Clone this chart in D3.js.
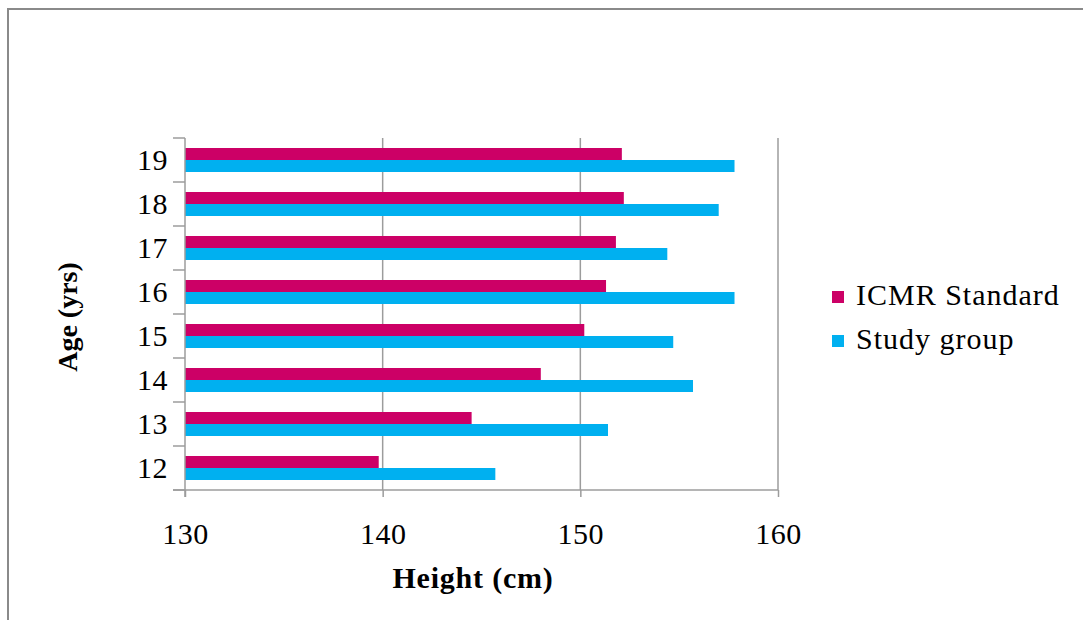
<!DOCTYPE html>
<html>
<head>
<meta charset="utf-8">
<script src="https://cdn.jsdelivr.net/npm/d3@7/dist/d3.min.js"></script>
<style>
  html, body { margin: 0; padding: 0; background: #fff; }
  svg { display: block; }
  text { font-family: "Liberation Serif", "Times New Roman", serif; fill: #000; }
</style>
</head>
<body>
<svg id="chart" width="1083" height="620"></svg>
<script>
// Mean height by age: ICMR reference vs. study group
const ages = ["12", "13", "14", "15", "16", "17", "18", "19"];
const seriesNames = ["ICMR Standard", "Study group"];
const icmrStandard = [139.8, 144.5, 148.0, 150.2, 151.3, 151.8, 152.2, 152.1];
const studyGroup   = [145.7, 151.4, 155.7, 154.7, 157.8, 154.4, 157.0, 157.8];
const xTicks = [130, 140, 150, 160];
const colors = ["#CC0066", "#00B0F0"];

const svg = d3.select("#chart");

// outer frame
svg.append("rect")
  .attr("x", 8).attr("y", 9)
  .attr("width", 1100).attr("height", 640)
  .attr("fill", "none").attr("stroke", "#8a8a8a").attr("stroke-width", 2);

const plot = { left: 185, right: 778, top: 138, bottom: 490 };

const x = d3.scaleLinear().domain([130, 160]).range([plot.left, plot.right]);
const y = d3.scaleBand().domain(ages.slice().reverse()).range([plot.top, plot.bottom]);
const ySub = d3.scaleBand().domain(seriesNames).range([10, y.bandwidth() - 10]);

const gridColor = "#9c9c9c";

// vertical gridlines
svg.append("g").selectAll("line")
  .data(xTicks.slice(1))
  .join("line")
  .attr("x1", d => x(d)).attr("x2", d => x(d))
  .attr("y1", plot.top).attr("y2", plot.bottom)
  .attr("stroke", gridColor).attr("stroke-width", 1.5);

// bars
const rows = ages.map((a, i) => ({ age: a, values: [icmrStandard[i], studyGroup[i]] }));
const groups = svg.append("g").selectAll("g")
  .data(rows)
  .join("g")
  .attr("transform", d => `translate(0,${y(d.age)})`);

groups.selectAll("rect")
  .data(d => d.values.map((v, k) => ({ name: seriesNames[k], value: v, k })))
  .join("rect")
  .attr("x", x(130))
  .attr("y", d => ySub(d.name))
  .attr("width", d => x(d.value) - x(130))
  .attr("height", ySub.bandwidth())
  .attr("fill", d => colors[d.k]);

// x axis
const xAxis = d3.axisBottom(x).tickValues(xTicks).tickSize(7).tickPadding(26).tickFormat(d3.format("d"));
const gx = svg.append("g").attr("transform", `translate(0,${plot.bottom})`).call(xAxis);
gx.select(".domain").attr("stroke", gridColor).attr("stroke-width", 1.5)
  .attr("d", `M${plot.left - 12},0H${plot.right}`);
gx.selectAll(".tick line").attr("stroke", gridColor).attr("stroke-width", 1.5);
gx.selectAll(".tick text")
  .style("font-family", "Liberation Serif, serif")
  .style("font-size", "30px").style("letter-spacing", "0.5px").attr("fill", "#000");

// y axis: ticks sit at band boundaries
const gy = svg.append("g");
const boundaries = d3.range(ages.length + 1).map(i => plot.top + i * y.step());
gy.append("line")
  .attr("x1", plot.left).attr("x2", plot.left)
  .attr("y1", plot.top).attr("y2", plot.bottom + 7)
  .attr("stroke", gridColor).attr("stroke-width", 1.5);
gy.selectAll("line.tk")
  .data(boundaries)
  .join("line")
  .attr("class", "tk")
  .attr("x1", plot.left - 12).attr("x2", plot.left)
  .attr("y1", d => d).attr("y2", d => d)
  .attr("stroke", gridColor).attr("stroke-width", 1.5);
gy.selectAll("text")
  .data(ages)
  .join("text")
  .attr("x", 168)
  .attr("y", d => y(d) + y.bandwidth() / 2 + 10)
  .attr("text-anchor", "end")
  .style("font-size", "30px")
  .style("letter-spacing", "0.5px")
  .text(d => d);

// axis titles
svg.append("text")
  .attr("x", 473).attr("y", 588)
  .attr("text-anchor", "middle")
  .style("font-size", "30px").style("font-weight", "bold")
  .style("letter-spacing", "0.8px")
  .text("Height (cm)");

svg.append("text")
  .attr("transform", "translate(77,317) rotate(-90)")
  .attr("text-anchor", "middle")
  .style("font-size", "28px").style("font-weight", "bold")
  .text("Age (yrs)");

// legend
const legend = svg.append("g").selectAll("g")
  .data(seriesNames)
  .join("g")
  .attr("transform", (d, i) => `translate(832,${291 + i * 44})`);
legend.append("rect")
  .attr("width", 12).attr("height", 12)
  .attr("fill", (d, i) => colors[i]);
legend.append("text")
  .attr("x", 24).attr("y", 14)
  .style("font-size", "30px")
  .style("letter-spacing", "1px")
  .text(d => d);
</script>
</body>
</html>
